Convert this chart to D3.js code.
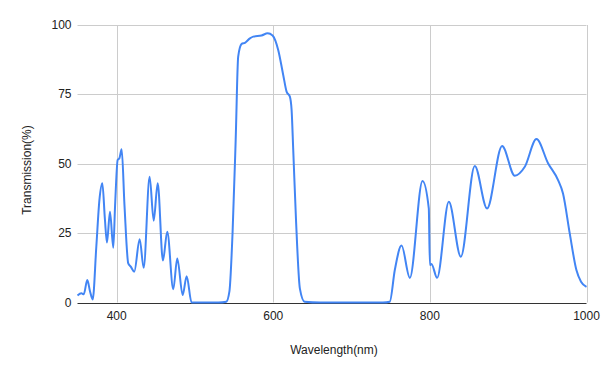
<!DOCTYPE html>
<html lang="en">
<head>
<meta charset="UTF-8">
<title>Transmission chart</title>
<script src="https://d3js.org/d3.v7.min.js"></script>
<style>
  body { margin: 0; background: #fff; }
  text { font-family: "Liberation Sans", Arial, sans-serif; }
</style>
</head>
<body>
<svg width="605" height="374"></svg>
<script>
  // wavelength (nm) and transmission (%)
  var wavelength = [350, 355, 358, 362.5, 366, 369.4, 374, 378, 381.7, 385, 387.6, 391.5, 395.7, 398, 401.3, 403.5, 406.4,
    410, 414.8, 418, 422.5, 429.4, 434.5, 442.1, 447.3, 452.4, 459.1, 464.6, 472.3, 477.4, 484.3, 489.4, 495.7,
    510, 530, 540, 544, 548, 552, 555.2, 559.6, 563.8, 570.2, 574.4, 585, 592.8, 599.1, 606.3, 612.7, 617, 621.2,
    623.4, 625.5, 629, 634, 640, 660, 700, 740, 748.8, 755.2, 763.8, 774.4, 790.6, 798.6, 800, 802, 809.2,
    824.2, 839.5, 857.3, 873, 892.2, 908.4, 921.2, 936.1, 950.9, 963.7, 970, 978.6, 987.1, 993, 1000];
  var transmission = [2.5, 3.3, 3, 8.1, 4, 1.1, 20, 37, 43, 30, 21.6, 32.7, 19.7, 35, 51.4, 52, 55.2,
    35, 14.1, 12.9, 11.1, 22.8, 12.5, 45.3, 29.5, 43, 15.1, 25.5, 4.8, 15.9, 2.7, 9.5, 0,
    0, 0, 0.3, 4, 25, 58.6, 88.6, 93.2, 93.6, 95.2, 95.8, 96.2, 97, 96.2, 91, 82, 76, 74.2,
    69.4, 55, 30, 5, 0.3, 0, 0, 0, 0.3, 11.7, 20.5, 8.9, 43.8, 33.9, 13.5, 13.9, 8.9,
    36.3, 16.5, 49.2, 33.9, 56.4, 45.7, 48.9, 58.9, 50.2, 44.1, 39.3, 24.9, 11.7, 7.5, 5.6];
  var xTicks = [400, 600, 800, 1000];
  var yTicks = [0, 25, 50, 75, 100];

  var svg = d3.select("svg");
  var plotLeft = 77.5, plotRight = 586.5, plotTop = 25, plotBottom = 302.5;

  var x = d3.scaleLinear().domain([350, 1000]).range([plotLeft, plotRight]);
  var y = d3.scaleLinear().domain([0, 100]).range([plotBottom, plotTop]);

  // gridlines
  svg.append("g").selectAll("line").data(yTicks.filter(function(d) { return d > 0; })).enter()
    .append("line")
    .attr("x1", plotLeft).attr("x2", plotRight)
    .attr("y1", function(d) { return Math.round(y(d)) + 0.5; })
    .attr("y2", function(d) { return Math.round(y(d)) + 0.5; })
    .attr("stroke", "#cccccc").attr("stroke-width", 1);

  svg.append("g").selectAll("line").data(xTicks).enter()
    .append("line")
    .attr("x1", function(d) { return Math.round(x(d)) + 0.5; })
    .attr("x2", function(d) { return Math.round(x(d)) + 0.5; })
    .attr("y1", plotTop).attr("y2", plotBottom)
    .attr("stroke", "#cccccc").attr("stroke-width", 1);

  // baseline (under the curve)
  svg.append("line")
    .attr("x1", plotLeft).attr("x2", plotRight)
    .attr("y1", Math.round(y(0)) + 0.5).attr("y2", Math.round(y(0)) + 0.5)
    .attr("stroke", "#333333").attr("stroke-width", 1);

  // tick labels
  svg.append("g").selectAll("text").data(yTicks).enter()
    .append("text")
    .attr("x", plotLeft - 6)
    .attr("y", function(d) { return y(d) + 4; })
    .attr("text-anchor", "end")
    .attr("font-size", 12)
    .attr("fill", "#222")
    .text(function(d) { return d; });

  svg.append("g").selectAll("text").data(xTicks).enter()
    .append("text")
    .attr("x", function(d) { return x(d); })
    .attr("y", 320)
    .attr("text-anchor", "middle")
    .attr("font-size", 12)
    .attr("fill", "#222")
    .text(function(d) { return d; });

  // the curve
  var points = wavelength.map(function(w, i) { return [w, transmission[i]]; });
  var line = d3.line()
    .x(function(d) { return x(d[0]); })
    .y(function(d) { return y(d[1]); })
    .curve(d3.curveMonotoneX);

  svg.append("path")
    .datum(points)
    .attr("d", line)
    .attr("fill", "none")
    .attr("stroke", "#4285f4")
    .attr("stroke-width", 2)
    .attr("stroke-linejoin", "round");

  // axis titles
  svg.append("text")
    .attr("x", (plotLeft + plotRight) / 2 + 2)
    .attr("y", 354)
    .attr("text-anchor", "middle")
    .attr("font-size", 12)
    .attr("fill", "#222")
    .text("Wavelength(nm)");

  svg.append("text")
    .attr("transform", "translate(31,170) rotate(-90)")
    .attr("text-anchor", "middle")
    .attr("font-size", 12)
    .attr("fill", "#222")
    .text("Transmission(%)");
</script>
</body>
</html>
